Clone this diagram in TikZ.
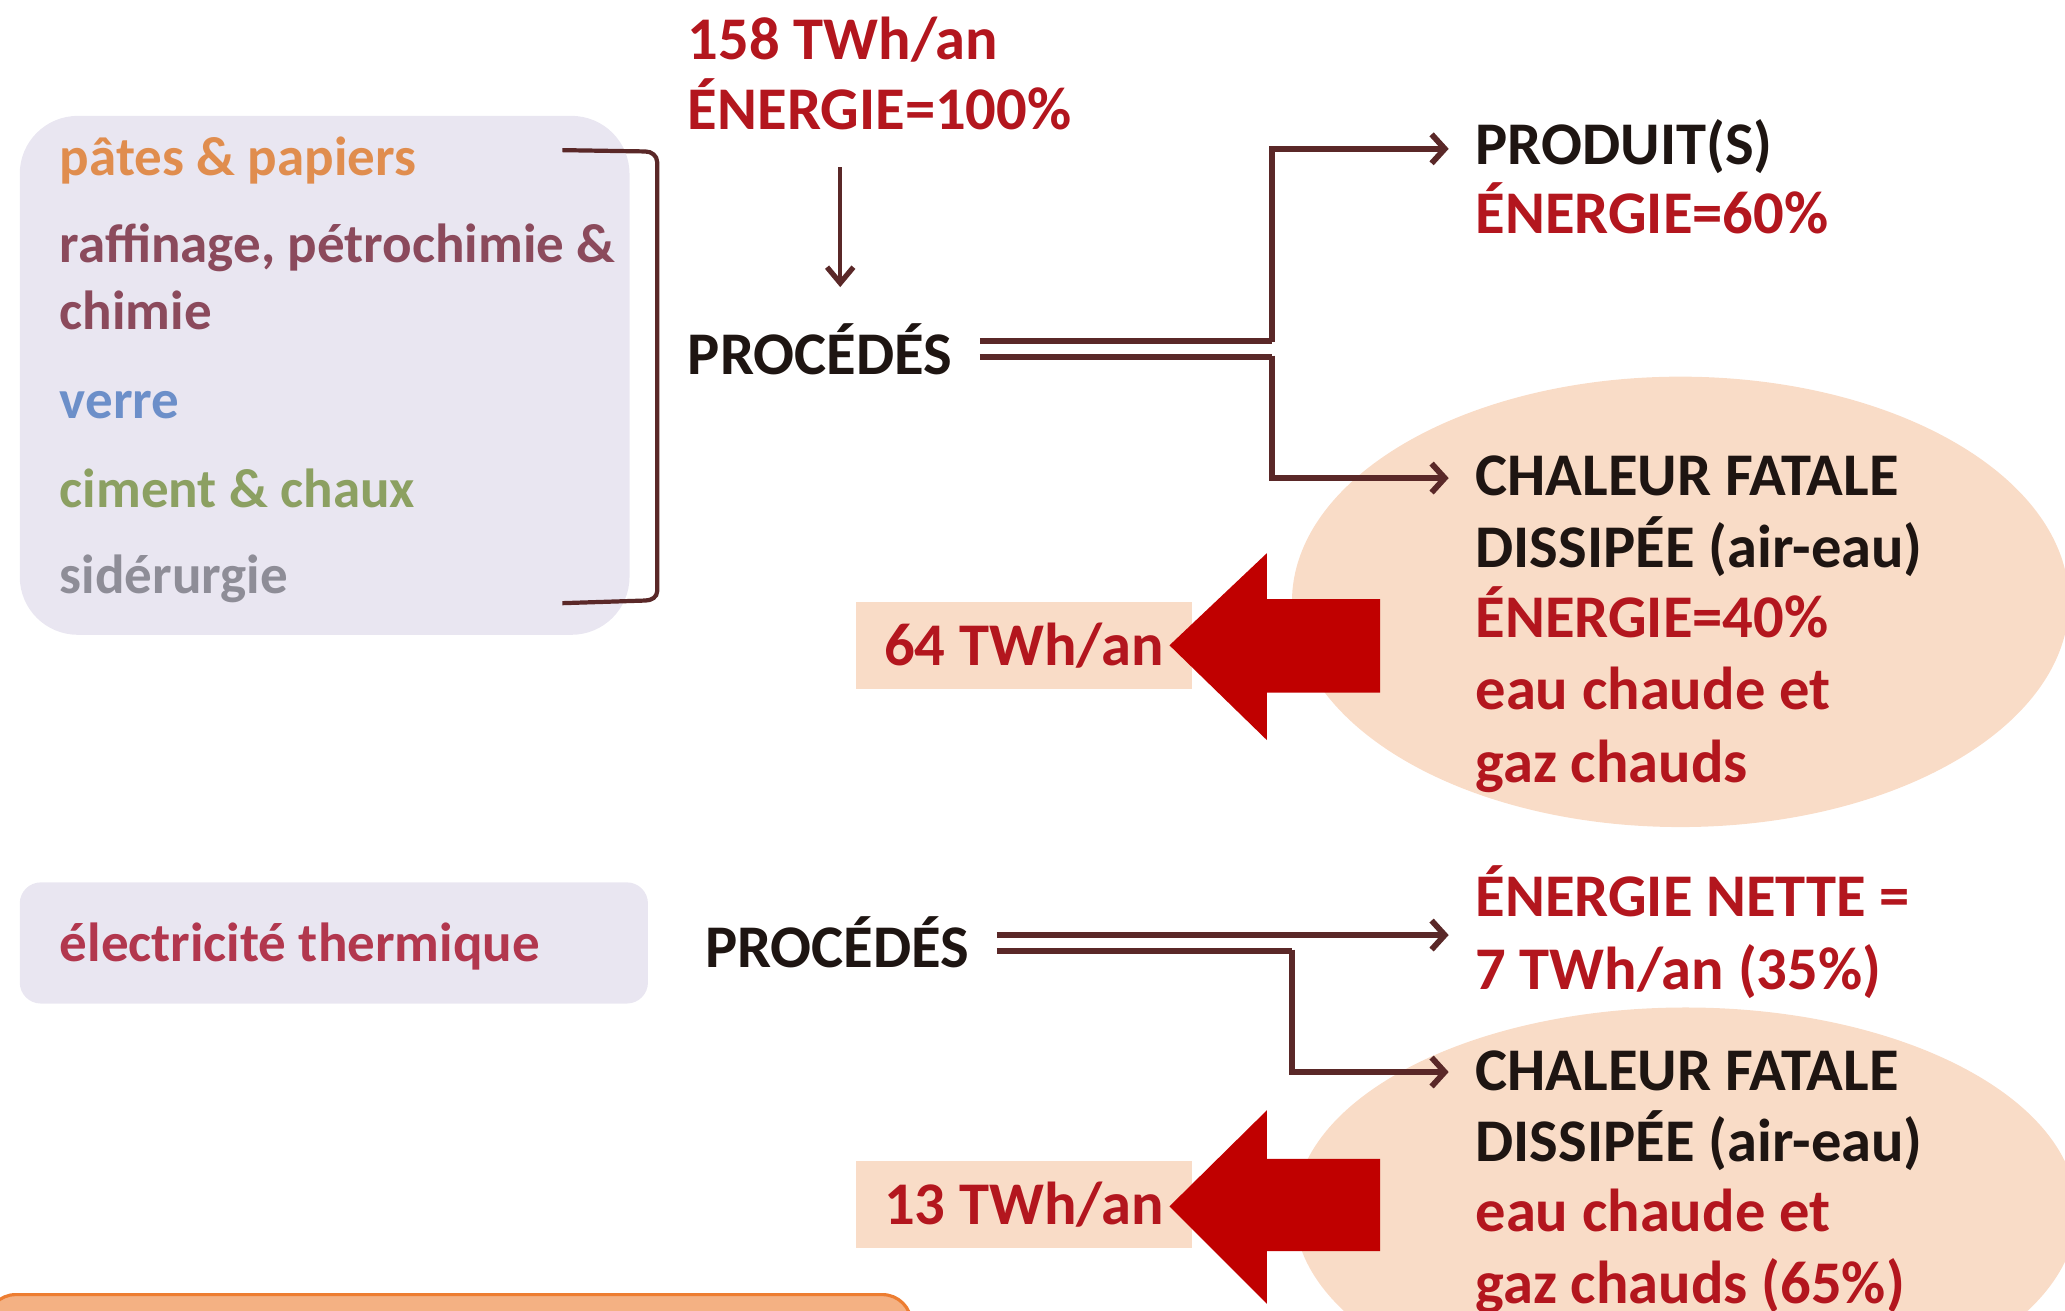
\documentclass[tikz,border=0pt]{standalone}
\usepackage{fontspec}
\setmainfont{Carlito}
\usetikzlibrary{arrows.meta}
\definecolor{boxfill}{HTML}{E9E6F1}
\definecolor{peach}{HTML}{F9DCC7}
\definecolor{redtxt}{HTML}{B3161E}
\definecolor{blacktxt}{HTML}{1E1512}
\definecolor{conn}{HTML}{5A2828}
\definecolor{bigred}{HTML}{C00000}
\definecolor{orfill}{HTML}{F4B183}
\definecolor{ordraw}{HTML}{ED7D31}
\definecolor{cpate}{HTML}{E08D4E}
\definecolor{craff}{HTML}{8B4A5C}
\definecolor{cverre}{HTML}{6C8FC9}
\definecolor{cciment}{HTML}{8CA062}
\definecolor{csider}{HTML}{8E8D97}
\definecolor{celec}{HTML}{B2374E}
\tikzset{
  ltxt/.style={anchor=base west, inner sep=0pt, font=\fontsize{20.9}{25}\selectfont\bfseries},
  rtxt/.style={anchor=base west, inner sep=0pt, font=\fontsize{23}{27.5}\selectfont\bfseries},
  connline/.style={draw=conn, line width=2.2pt},
  thinline/.style={draw=conn, line width=1.6pt},
  dblline/.style={draw=conn, line width=2.3pt},
  tip/.style={-{Straight Barb[length=5pt,width=11pt,line width=2.2pt]}},
  downtip/.style={-{Straight Barb[length=6pt,width=10pt,line width=2pt]}},
  peachbox/.style={fill=peach, inner sep=0pt, minimum width=127.5pt, minimum height=33pt, text=redtxt, font=\fontsize{23}{27.5}\selectfont\bfseries},
}
\begin{document}
\begin{tikzpicture}[x=0.5pt,y=-0.5pt]
\useasboundingbox (0,0) rectangle (1568,995);
\clip (0,0) rectangle (1568,995);
% background shapes
\fill[boxfill, rounded corners=22pt] (15,88) rectangle (478,482);
\fill[boxfill, rounded corners=8pt] (15,670) rectangle (492,762);
\fill[peach] (1276,457) ellipse [x radius=295, y radius=171];
\fill[peach] (1280,920) ellipse [x radius=297, y radius=155];
\filldraw[fill=orfill, draw=ordraw, line width=1.2pt, rounded corners=11pt] (-10,983) rectangle (692,1030);
% left box texts
\node[ltxt, text=cpate] (pate) at (45,133) {pâtes \& papiers};
\node[ltxt, text=craff] (raff) at (45,199) {raffinage, pétrochimie \&};
\node[ltxt, text=craff] (chim) at (45,250) {chimie};
\node[ltxt, text=cverre] (verre) at (45,318) {verre};
\node[ltxt, text=cciment] (ciment) at (45,385) {ciment \& chaux};
\node[ltxt, text=csider] (sider) at (45,451) {sidérurgie};
\node[ltxt, text=celec] (elec) at (45,730) {électricité thermique};
% bracket
\coordinate (brT) at (427,114);
\coordinate (brB) at (427,458);
\draw[thinline] (brT) -- (490,115) to[out=0,in=90] (499,123) -- (499,449) to[out=270,in=0] (490,456) -- (brB);
% top texts
\node[rtxt, text=redtxt] (twh) at (522,45) {158 TWh/an};
\node[rtxt, text=redtxt] (enA) at (522,98) {ÉNERGIE=100\%};
\node[rtxt, text=blacktxt] (procA) at (522,284) {PROCÉDÉS};
\node[rtxt, text=blacktxt] (prod) at (1120,125) {PRODUIT(S)};
\node[rtxt, text=redtxt] (en60) at (1120,177) {ÉNERGIE=60\%};
\node[rtxt, text=blacktxt] (chA) at (1120,376) {CHALEUR FATALE};
\node[rtxt, text=blacktxt] (disA) at (1120,431) {DISSIPÉE (air-eau)};
\node[rtxt, text=redtxt] (en40) at (1120,484) {ÉNERGIE=40\%};
\node[rtxt, text=redtxt] (eauA) at (1120,539) {eau chaude et};
\node[rtxt, text=redtxt] (gazA) at (1120,594) {gaz chauds};
% second row texts
\node[rtxt, text=blacktxt] (procB) at (535,735) {PROCÉDÉS};
\node[rtxt, text=redtxt] (nette) at (1120,696) {ÉNERGIE NETTE =};
\node[rtxt, text=redtxt] (seven) at (1120,751) {7 TWh/an (35\%)};
\node[rtxt, text=blacktxt] (chB) at (1120,828) {CHALEUR FATALE};
\node[rtxt, text=blacktxt] (disB) at (1120,882) {DISSIPÉE (air-eau)};
\node[rtxt, text=redtxt] (eauB) at (1120,935) {eau chaude et};
\node[rtxt, text=redtxt] (gazB) at (1120,990) {gaz chauds (65\%)};
% value boxes
\node[peachbox] (b64) at (777.5,490) {64 TWh/an};
\node[peachbox] (b13) at (777.5,914.5) {13 TWh/an};
% big red arrows
\fill[bigred] (1048,455) -- (962,455) -- (962,420) -- (888,490) -- (962,562) -- (962,526) -- (1048,526) -- cycle;
\fill[bigred] (1048,880) -- (962,880) -- (962,843) -- (888,916) -- (962,990) -- (962,950) -- (1048,950) -- cycle;
% connectors
\coordinate (dTop) at (638,127);
\coordinate (dBot) at (638,218);
\draw[thinline, downtip] (dTop) -- (dBot);
\coordinate (a1) at (744,259);
\coordinate (a2) at (744,271);
\coordinate (pA) at (1100,113);
\coordinate (cA) at (1100,363);
\draw[dblline] (a1) -- (966,259);
\draw[dblline] (a2) -- (966,271);
\draw[connline, tip] (966,260) -- (966,113) -- (pA);
\draw[connline, tip] (966,270) -- (966,363) -- (cA);
\coordinate (b1) at (757,710);
\coordinate (b2) at (757,722);
\coordinate (nB) at (1100,710);
\coordinate (cB) at (1100,814);
\draw[dblline, tip] (b1) -- (nB);
\draw[dblline] (b2) -- (981,722);
\draw[connline, tip] (981,721) -- (981,814) -- (cB);
\end{tikzpicture}
\end{document}
